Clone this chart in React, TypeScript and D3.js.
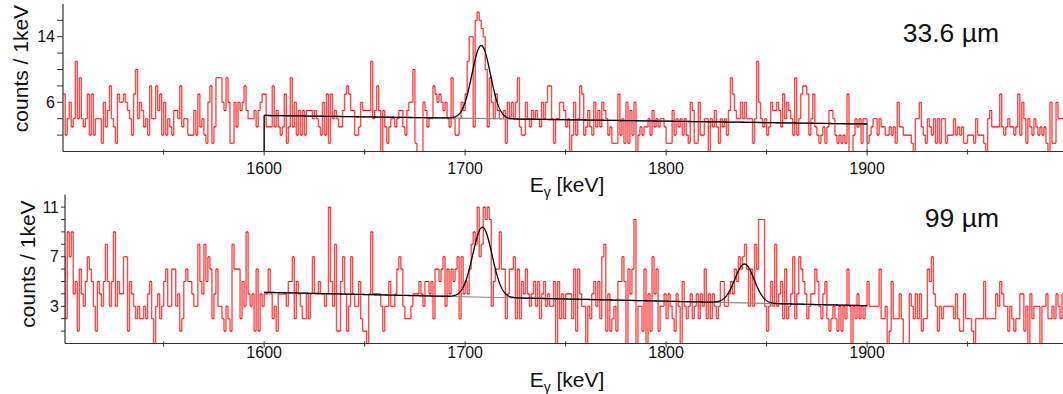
import React from "react";
import * as d3 from "d3";

// ---------------- data ----------------
const E_START = 1500; // keV, first bin lower edge (1 keV bins)

const topCounts: number[] = [
  7,2,4,6,3,4,11,4,9,4, 3,4,7,2,7,2,4,4,4,1, 6,3,5,8,4,3,1,7,6,6, 7,6,5,4,2,7,10,4,6,5,
  3,4,2,8,4,4,8,5,7,2, 6,2,4,3,2,5,5,4,8,3, 4,4,2,2,2,5,2,7,3,4, 2,1,6,8,1,3,9,9,9,6,
  5,9,6,1,1,6,3,6,5,6, 8,5,4,4,4,5,3,5,6,7, 7,3,3,3,8,3,5,3,2,3, 7,1,3,9,3,6,2,5,2,5,
  2,5,5,5,4,5,4,3,2,6, 2,7,1,7,4,5,4,3,3,5, 7,8,7,5,5,2,2,3,6,5, 5,5,5,11,4,5,8,5,0,5,
  3,1,3,4,4,3,4,5,5,3, 2,5,6,6,10,1,0,0,0,6, 5,3,4,4,8,7,6,7,6,5, 6,4,3,9,4,2,2,4,6,5,
  7,11,14,14,3,16,17,16,15,14, 10,3,9,6,4,7,5,4,4,5, 1,6,4,6,4,6,9,3,2,2, 6,4,3,5,4,5,4,3,6,4,
  6,8,8,4,1,4,4,6,6,5, 3,4,0,2,6,2,4,8,7,2, 3,5,3,2,6,3,5,3,6,5, 4,2,3,1,1,1,7,2,4,1,
  6,1,5,2,6,0,2,3,2,3, 3,4,2,5,3,4,3,4,4,3, 1,1,1,5,2,4,3,4,2,4, 2,1,6,5,1,1,6,2,2,4,
  4,0,4,3,5,3,1,4,3,4, 2,5,9,7,5,4,4,6,4,6, 4,4,4,1,4,11,6,4,3,4, 2,3,6,5,5,6,5,3,7,4,
  6,5,4,2,9,2,4,7,8,8, 7,2,4,7,3,2,1,2,3,1, 3,5,5,4,2,1,2,1,2,1, 7,0,0,2,4,3,4,1,4,4,
  1,2,3,4,4,2,4,3,3,2, 2,3,2,3,1,6,3,3,2,2, 2,2,1,0,4,4,6,3,2,1, 4,3,2,4,1,4,1,4,4,1,
  2,2,2,4,2,3,2,3,1,1, 2,2,2,1,4,2,2,2,1,0, 4,5,3,3,3,3,7,3,2,3, 4,3,3,2,3,7,2,6,4,1,
  4,3,2,4,3,2,3,2,3,1, 0,6,1,1,6,4,4,4,
];

const bottomCounts: number[] = [
  7,2,9,7,9,4,5,1,6,4, 3,5,7,6,5,3,1,5,4,3, 5,8,5,3,5,9,3,5,4,4, 7,7,1,5,4,3,2,3,2,2,
  3,2,4,5,2,0,3,4,2,3, 5,6,3,3,6,6,3,4,1,2, 5,6,5,5,4,3,3,8,5,4, 8,5,7,6,2,4,6,3,3,2,
  1,3,2,1,8,6,6,6,2,5, 3,9,4,3,4,1,6,1,4,3, 4,4,6,4,2,3,1,4,4,4, 4,3,5,5,7,2,5,4,3,2,
  2,4,2,4,7,4,4,5,4,4, 3,4,11,5,3,8,1,1,5,7, 4,1,3,7,4,3,3,5,2,1, 1,0,4,9,4,4,4,4,3,1,
  3,3,5,3,3,4,6,7,6,3, 2,2,2,3,4,4,4,5,4,3, 5,5,4,5,2,6,6,5,6,7, 3,6,4,6,5,6,7,2,7,4,
  5,4,6,8,9,8,11,7,8,11, 10,11,10,3,5,6,6,9,6,6, 2,4,6,6,7,2,6,2,5,4, 6,4,3,4,5,3,5,2,4,5,
  3,4,3,3,5,0,5,2,4,2, 4,4,4,2,6,1,6,4,3,3, 0,3,2,4,5,3,5,2,7,8, 1,4,1,2,3,1,5,5,7,5,
  0,6,4,6,10,0,3,3,1,6, 0,4,1,7,4,6,1,3,3,4, 2,4,3,2,1,4,3,0,5,3, 2,3,4,2,3,4,2,4,3,6,
  2,4,2,4,3,2,3,5,5,3, 3,4,5,4,6,5,7,6,7,8, 6,3,6,3,8,6,10,10,10,3, 1,3,5,3,8,3,4,5,2,6,
  2,3,4,7,2,4,7,6,5,4, 2,3,4,4,6,5,3,2,4,5, 2,1,2,3,2,1,3,1,3,2, 6,3,0,3,2,4,2,3,2,3,
  5,3,3,3,3,3,6,2,2,3, 0,1,5,2,2,2,4,2,0,0, 0,4,3,2,4,2,4,1,2,2, 6,5,7,4,3,1,3,2,3,3,
  3,3,3,2,4,2,1,1,4,2, 2,2,1,0,2,2,2,2,5,2, 2,2,2,2,4,3,5,4,3,3, 1,3,2,1,2,2,4,4,1,3,
  0,4,2,3,3,3,0,3,3,4, 2,2,3,2,4,3,2,4,
];

const xMajorTicks = [1600, 1700, 1800, 1900];
const xMinorTicks = [1550, 1650, 1750, 1850, 1950];
const topYMajor = [6, 14];
const topYMinor = [2, 4, 8, 10, 12, 16];
const bottomYMajor = [3, 7, 11];
const bottomYMinor = [1, 2, 4, 5, 6, 8, 9, 10];

// fit: linear background from FIT_RANGE[0] to FIT_RANGE[1] plus gaussian peaks
const FIT_RANGE = [1600, 1900];
const topBackground = [4.4, 3.35];
const topPeakCenters = [1708];
const topPeakAmps = [8.9];
const topPeakSigmas = [4.6];
const bottomBackground = [4.13, 3.05];
const bottomPeakCenters = [1708.6, 1839];
const bottomPeakAmps = [5.64, 3.14];
const bottomPeakSigmas = [4.8, 4.8];

const labels = { y: "counts / 1keV", top: "33.6 µm", bottom: "99 µm" };

// ---------------- layout ----------------
const W = 1063;
const H = 394;
const FONT = "'Liberation Sans', Arial, sans-serif";
const AXIS = "#333";

const x = d3.scaleLinear().domain([1500, 2000]).range([63.2, 63.2 + 500 * 2.0097]);

interface PanelProps {
  counts: number[];
  yMax: number;
  y0: number;
  pxPerCount: number;
  axisX: number;
  yMajor: number[];
  yMinor: number[];
  bg: number[];
  centers: number[];
  amps: number[];
  sigmas: number[];
  label: string;
  labelY: number;
  yLabelX: number;
  yLabelY: number;
  tickLabelY: number;
  xTitleY: number;
  minorLen: number;
  majorLen: number;
  closeFit: boolean;
  id: string;
}

function Panel(p: PanelProps) {
  const y = d3.scaleLinear().domain([0, p.yMax]).range([p.y0, p.y0 - p.yMax * p.pxPerCount]);

  // histogram: horizontal tops (crisp red) and vertical risers (lighter red)
  const bins = p.counts.map((v, i) => ({ e0: E_START + i, e1: E_START + i + 1, v }));
  const horiz = bins.map((b) => `M${x(b.e0)},${y(b.v)}H${x(b.e1)}`).join("");
  const vert = bins
    .slice(1)
    .map((b, i) => `M${x(b.e0)},${y(bins[i].v)}V${y(b.v)}`)
    .join("");

  const bgAt = (e: number) =>
    p.bg[0] + ((p.bg[1] - p.bg[0]) * (e - FIT_RANGE[0])) / (FIT_RANGE[1] - FIT_RANGE[0]);
  const fitPts: [number, number][] = [];
  for (let e = FIT_RANGE[0]; e <= FIT_RANGE[1] + 1e-9; e += 0.25) {
    let v = bgAt(e);
    p.centers.forEach((c, i) => {
      v += p.amps[i] * Math.exp(-((e - c) * (e - c)) / (2 * p.sigmas[i] * p.sigmas[i]));
    });
    fitPts.push([e, v]);
  }
  const line = d3
    .line<[number, number]>()
    .x((d) => x(d[0]))
    .y((d) => y(d[1]));
  const fit = line(fitPts) as string;
  const bgPts: [number, number][] = [
    [FIT_RANGE[0], bgAt(FIT_RANGE[0])],
    [FIT_RANGE[1], bgAt(FIT_RANGE[1])],
  ];
  const bgPath = p.closeFit
    ? line([[FIT_RANGE[0], 0], ...bgPts, [FIT_RANGE[1], 0]] as [number, number][])
    : line(bgPts);
  const yTop = y(p.yMax);

  return (
    <g>
      <defs>
        <clipPath id={p.id}>
          <rect x={p.axisX} y={0} width={W - p.axisX} height={p.y0 + 1} />
        </clipPath>
      </defs>
      <g clipPath={`url(#${p.id})`}>
        <path d={vert} fill="none" stroke="#ff4a4a" strokeWidth={1.4} />
        <path d={horiz} fill="none" stroke="#ff0000" strokeWidth={1.1} />
        <path d={bgPath as string} fill="none" stroke="#8a8a8a" strokeWidth={1.2} />
        {p.closeFit && (
          <line x1={x(FIT_RANGE[0])} x2={x(FIT_RANGE[0])} y1={y(0)} y2={y(bgAt(FIT_RANGE[0]))} stroke="#000" strokeWidth={1.2} />
        )}
        <path d={fit} fill="none" stroke="#000" strokeWidth={1.3} />
      </g>
      {/* axes */}
      <line x1={p.axisX} x2={W} y1={p.y0} y2={p.y0} stroke={AXIS} strokeWidth={1.2} />
      <line x1={p.axisX} x2={p.axisX} y1={yTop} y2={p.y0} stroke={AXIS} strokeWidth={1.2} />
      {xMinorTicks.map((t) => (
        <line key={"xm" + t} x1={x(t)} x2={x(t)} y1={p.y0 - 2} y2={p.y0 + 3} stroke={AXIS} strokeWidth={1} />
      ))}
      {xMajorTicks.map((t) => (
        <g key={"xM" + t}>
          <line x1={x(t)} x2={x(t)} y1={p.y0 - 2} y2={p.y0 + 4} stroke={AXIS} strokeWidth={1} />
          <text x={x(t)} y={p.tickLabelY} textAnchor="middle" fontSize={16} fontFamily={FONT} fill="#111">
            {t}
          </text>
        </g>
      ))}
      {p.yMinor.map((t) => (
        <line key={"ym" + t} x1={p.axisX - p.minorLen} x2={p.axisX} y1={y(t)} y2={y(t)} stroke={AXIS} strokeWidth={1} />
      ))}
      {p.yMajor.map((t) => (
        <g key={"yM" + t}>
          <line x1={p.axisX - p.majorLen} x2={p.axisX} y1={y(t)} y2={y(t)} stroke={AXIS} strokeWidth={1} />
          <text x={p.axisX - p.majorLen - 2} y={y(t)} dy="0.36em" textAnchor="end" fontSize={16} fontFamily={FONT} fill="#111">
            {t}
          </text>
        </g>
      ))}
      <text
        transform={`translate(${p.yLabelX},${p.yLabelY}) rotate(-90)`}
        textAnchor="middle"
        fontSize={21}
        fontFamily={FONT}
        fill="#111"
      >
        {labels.y}
      </text>
      <text x={567} y={p.xTitleY} textAnchor="middle" fontSize={21} fontFamily={FONT} fill="#111">
        E<tspan fontSize={14} dy={5}>γ</tspan>
        <tspan dy={-5}> [keV]</tspan>
      </text>
      <text x={999} y={p.labelY} textAnchor="end" fontSize={26.5} fontFamily={FONT} fill="#111">
        {p.label}
      </text>
    </g>
  );
}

export default function App() {
  return (
    <svg
      width={W}
      height={H}
      viewBox={`0 0 ${W} ${H}`}
      style={{ position: "absolute", left: 0, top: 0, background: "#fff" }}
    >
      <rect width={W} height={H} fill="#fff" />
      <Panel
        id="clipTop"
        counts={topCounts}
        yMax={18}
        y0={151.5}
        pxPerCount={8.2}
        axisX={63}
        yMajor={topYMajor}
        yMinor={topYMinor}
        bg={topBackground}
        centers={topPeakCenters}
        amps={topPeakAmps}
        sigmas={topPeakSigmas}
        label={labels.top}
        labelY={41.7}
        yLabelX={28}
        yLabelY={68.5}
        tickLabelY={174}
        xTitleY={192}
        minorLen={6}
        majorLen={6}
        closeFit={true}
      />
      <Panel
        id="clipBottom"
        counts={bottomCounts}
        yMax={12}
        y0={343.5}
        pxPerCount={12.4}
        axisX={65}
        yMajor={bottomYMajor}
        yMinor={bottomYMinor}
        bg={bottomBackground}
        centers={bottomPeakCenters}
        amps={bottomPeakAmps}
        sigmas={bottomPeakSigmas}
        label={labels.bottom}
        labelY={226.7}
        yLabelX={35}
        yLabelY={264}
        tickLabelY={358}
        xTitleY={387}
        minorLen={4}
        majorLen={4}
        closeFit={false}
      />
    </svg>
  );
}
